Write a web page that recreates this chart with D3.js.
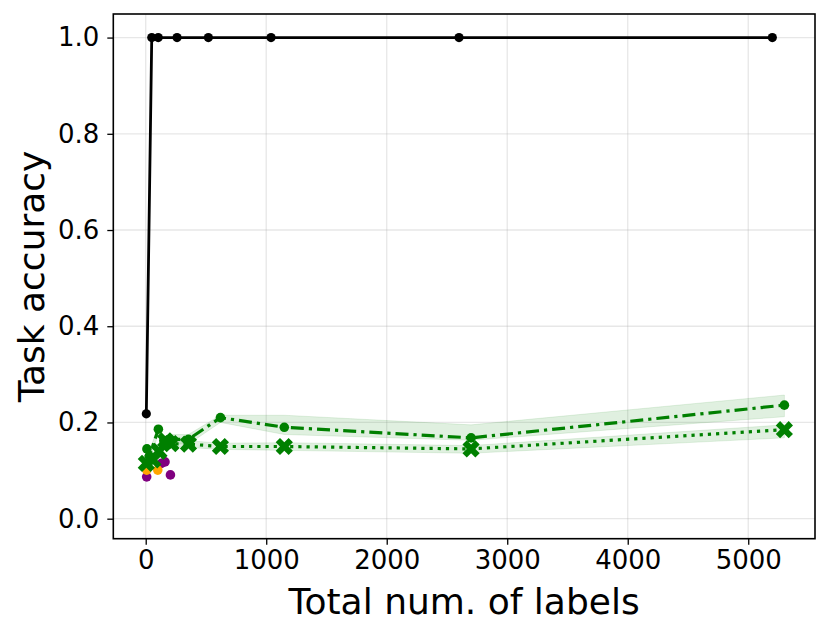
<!DOCTYPE html>
<html><head><meta charset="utf-8">
<script src="https://cdn.jsdelivr.net/npm/d3@7"></script>
<style>body{margin:0;background:#fff}svg{display:block}text{font-family:"DejaVu Sans",sans-serif}</style>
</head><body><svg id="c" width="831" height="635"></svg>
<script>
// ---- data ----
const xTicks = [0, 1000, 2000, 3000, 4000, 5000];
const yTicks = [0.0, 0.2, 0.4, 0.6, 0.8, 1.0];

const blackX = [5, 50, 104, 260, 520, 1040, 2600, 5200];
const blackY = [0.218, 1.0, 1.0, 1.0, 1.0, 1.0, 1.0, 1.0];

const dashX  = [10, 30, 105, 150, 200, 355, 620, 1150, 2700, 5300];
const dashY  = [0.145, 0.13, 0.186, 0.162, 0.165, 0.165, 0.21, 0.19, 0.168, 0.236];
const dashLo = [0.138, 0.122, 0.175, 0.152, 0.155, 0.155, 0.2, 0.175, 0.163, 0.212];
const dashHi = [0.152, 0.138, 0.195, 0.172, 0.175, 0.175, 0.215, 0.215, 0.195, 0.257];

const dotX  = [5, 60, 110, 165, 210, 355, 620, 1150, 2700, 5300];
const dotY  = [0.115, 0.122, 0.14, 0.162, 0.156, 0.155, 0.15, 0.15, 0.145, 0.185];
const dotLo = [0.108, 0.115, 0.132, 0.155, 0.15, 0.148, 0.144, 0.142, 0.136, 0.168];
const dotHi = [0.122, 0.13, 0.148, 0.17, 0.163, 0.162, 0.157, 0.158, 0.152, 0.195];

const purpleX = [8, 130, 160, 205];
const purpleY = [0.087, 0.115, 0.118, 0.091];
const orangeX = [8, 100];
const orangeY = [0.101, 0.101];

// ---- layout ----
const svg = d3.select("#c");
const L = 113.3, R = 815, T = 14, B = 538.7;
const x = d3.scaleLinear().domain([-269, 5554]).range([L, R]);
const y = d3.scaleLinear().domain([-0.0416, 1.049]).range([B, T]);

// grid
const g = svg.append("g");
g.selectAll(".gx").data(xTicks).enter().append("line")
  .attr("x1", d => x(d)).attr("x2", d => x(d)).attr("y1", T).attr("y2", B)
  .attr("stroke", "#b0b0b0").attr("stroke-opacity", 0.3).attr("stroke-width", 1.3);
g.selectAll(".gy").data(yTicks).enter().append("line")
  .attr("y1", d => y(d)).attr("y2", d => y(d)).attr("x1", L).attr("x2", R)
  .attr("stroke", "#b0b0b0").attr("stroke-opacity", 0.3).attr("stroke-width", 1.3);

const green = "#008000";
function zip(xs, ys) { return xs.map((v, i) => [v, ys[i]]); }
const line = d3.line().x(d => x(d[0])).y(d => y(d[1]));
const area = d3.area().x(d => x(d[0])).y0(d => y(d[1])).y1(d => y(d[2]));

// bands
svg.append("path").datum(dashX.map((v, i) => [v, dashLo[i], dashHi[i]]))
  .attr("d", area).attr("fill", green).attr("fill-opacity", 0.12)
  .attr("stroke", green).attr("stroke-opacity", 0.1);
svg.append("path").datum(dotX.map((v, i) => [v, dotLo[i], dotHi[i]]))
  .attr("d", area).attr("fill", green).attr("fill-opacity", 0.12)
  .attr("stroke", green).attr("stroke-opacity", 0.1);

// purple & orange
svg.selectAll(".pu").data(zip(purpleX, purpleY)).enter().append("circle")
  .attr("cx", d => x(d[0])).attr("cy", d => y(d[1])).attr("r", 4.8).attr("fill", "#800080");
svg.selectAll(".or").data(zip(orangeX, orangeY)).enter().append("circle")
  .attr("cx", d => x(d[0])).attr("cy", d => y(d[1])).attr("r", 4.8).attr("fill", "#FFA500");

// dotted series
svg.append("path").datum(zip(dotX, dotY)).attr("d", line).attr("fill", "none")
  .attr("stroke", green).attr("stroke-width", 3.2).attr("stroke-dasharray", "3.2,5");
const xsym = d3.symbol().type(d3.symbolCross).size(185);
svg.selectAll(".xm").data(zip(dotX, dotY)).enter().append("path")
  .attr("d", xsym).attr("fill", green)
  .attr("transform", d => `translate(${x(d[0])},${y(d[1])}) rotate(45)`);

// dash-dot series
svg.append("path").datum(zip(dashX, dashY)).attr("d", line).attr("fill", "none")
  .attr("stroke", green).attr("stroke-width", 3.2).attr("stroke-dasharray", "13,5,3.2,5");
svg.selectAll(".dc").data(zip(dashX, dashY)).enter().append("circle")
  .attr("cx", d => x(d[0])).attr("cy", d => y(d[1])).attr("r", 4.8).attr("fill", green);

// black series
svg.append("path").datum(zip(blackX, blackY)).attr("d", line).attr("fill", "none")
  .attr("stroke", "#000").attr("stroke-width", 2.8);
svg.selectAll(".bk").data(zip(blackX, blackY)).enter().append("circle")
  .attr("cx", d => x(d[0])).attr("cy", d => y(d[1])).attr("r", 4.6).attr("fill", "#000");

// axes
const xa = svg.append("g").attr("transform", `translate(0,${B})`)
  .call(d3.axisBottom(x).tickValues(xTicks).tickSize(6).tickPadding(6).tickFormat(d3.format("d")));
const ya = svg.append("g").attr("transform", `translate(${L},0)`)
  .call(d3.axisLeft(y).tickValues(yTicks).tickSize(6).tickPadding(8).tickFormat(d3.format(".1f")));
[xa, ya].forEach(a => {
  a.select(".domain").remove();
  a.selectAll(".tick line").attr("stroke", "#000").attr("stroke-width", 1.3);
  a.selectAll("text").attr("font-size", 26).attr("fill", "#000").attr("font-family", "DejaVu Sans");
});
svg.append("rect").attr("x", L).attr("y", T).attr("width", R - L).attr("height", B - T)
  .attr("fill", "none").attr("stroke", "#000").attr("stroke-width", 1.6);

svg.append("text").attr("x", (L + R) / 2).attr("y", 614).attr("text-anchor", "middle")
  .attr("font-size", 36).text("Total num. of labels");
svg.append("text").attr("transform", `translate(44,${(T + B) / 2}) rotate(-90)`)
  .attr("text-anchor", "middle").attr("font-size", 36).text("Task accuracy");
</script></body></html>
